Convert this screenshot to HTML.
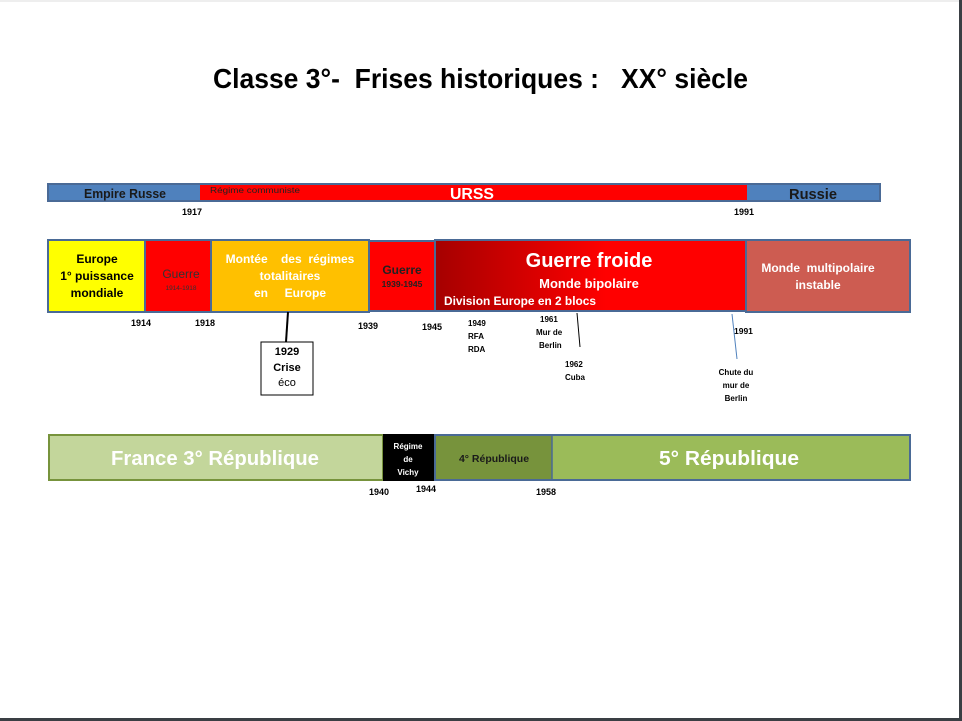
<!DOCTYPE html>
<html><head><meta charset="utf-8"><style>
html,body{margin:0;padding:0;background:#fff}
svg{display:block}
text{font-family:"Liberation Sans",sans-serif;font-weight:bold;white-space:pre}
</style></head><body>
<svg width="962" height="721" viewBox="0 0 962 721" xmlns="http://www.w3.org/2000/svg" xml:space="preserve">
<defs>
<linearGradient id="gf" x1="0" x2="1" y1="0" y2="0">
<stop offset="0" stop-color="#a50000"/><stop offset="0.55" stop-color="#ff0000"/><stop offset="1" stop-color="#ff0000"/>
</linearGradient>
</defs>
<rect x="0" y="0" width="962" height="721" fill="#fff"/>
<rect x="0" y="0" width="962" height="2" fill="#eee"/>
<rect x="959" y="0" width="3" height="721" fill="#3a3f44"/>
<rect x="0" y="718" width="962" height="3" fill="#3a3f44"/>

<text x="213" y="88" font-size="28" textLength="535" lengthAdjust="spacingAndGlyphs" fill="#000">Classe 3°-  Frises historiques :   XX° siècle</text>

<rect x="48" y="184" width="832" height="17" fill="#ff0000" stroke="#4a6a96" stroke-width="2"/>
<rect x="49" y="185" width="151" height="15" fill="#4f81bd"/>
<rect x="747" y="185" width="132" height="15" fill="#4f81bd"/>
<text x="84" y="198" font-size="13" textLength="82" lengthAdjust="spacingAndGlyphs" fill="#1a1a1a">Empire Russe</text>
<text x="210" y="193" font-size="8" style="font-weight:normal" fill="#222" textLength="90" lengthAdjust="spacingAndGlyphs">Régime communiste</text>
<text x="450" y="199" font-size="16" textLength="44" lengthAdjust="spacingAndGlyphs" fill="#fff">URSS</text>
<text x="789" y="199" font-size="15" textLength="48" lengthAdjust="spacingAndGlyphs" fill="#1a1a1a">Russie</text>
<text x="182" y="215" font-size="9" fill="#000">1917</text>
<text x="734" y="215" font-size="9" fill="#000">1991</text>

<g stroke="#4a6a96" stroke-width="2">
<rect x="48" y="240" width="97" height="72" fill="#ffff00"/>
<rect x="145" y="240" width="66" height="72" fill="#ff0000"/>
<rect x="211" y="240" width="158" height="72" fill="#ffc000"/>
<rect x="369" y="241" width="66" height="70" fill="#ff0000"/>
<rect x="435" y="240" width="311" height="71" fill="url(#gf)"/>
<rect x="746" y="240" width="164" height="72" fill="#cd5c51"/>
</g>
<g font-size="12" fill="#000" text-anchor="middle">
<text x="97" y="263">Europe</text>
<text x="97" y="280">1° puissance</text>
<text x="97" y="297">mondiale</text>
</g>
<text x="181" y="278" font-size="12" style="font-weight:normal" fill="#333" text-anchor="middle">Guerre</text>
<text x="181" y="290" font-size="6.5" style="font-weight:normal" fill="#333" text-anchor="middle">1914-1918</text>
<g font-size="12" fill="#fff" text-anchor="middle">
<text x="290" y="263">Montée    des  régimes</text>
<text x="290" y="280">totalitaires</text>
<text x="290" y="297">en     Europe</text>
</g>
<text x="402" y="274" font-size="12" fill="#222" text-anchor="middle">Guerre</text>
<text x="402" y="287" font-size="8.5" fill="#222" text-anchor="middle">1939-1945</text>
<text x="589" y="267" font-size="20" fill="#fff" text-anchor="middle">Guerre froide</text>
<text x="589" y="288" font-size="13" fill="#fff" text-anchor="middle">Monde bipolaire</text>
<text x="444" y="305" font-size="11.5" fill="#fff" textLength="152" lengthAdjust="spacingAndGlyphs">Division Europe en 2 blocs</text>
<text x="818" y="272" font-size="12" fill="#fff" text-anchor="middle">Monde  multipolaire</text>
<text x="818" y="289" font-size="12" fill="#fff" text-anchor="middle">instable</text>

<g font-size="9" fill="#000">
<text x="131" y="326">1914</text>
<text x="195" y="326">1918</text>
<text x="358" y="329">1939</text>
<text x="422" y="330">1945</text>
<text x="468" y="326" font-size="8">1949</text>
<text x="468" y="339" font-size="8">RFA</text>
<text x="468" y="352" font-size="8">RDA</text>
<text x="540" y="322" font-size="8">1961</text>
<text x="536" y="335" font-size="8">Mur de</text>
<text x="539" y="348" font-size="8">Berlin</text>
<text x="565" y="367" font-size="8">1962</text>
<text x="565" y="380" font-size="8">Cuba</text>
<text x="734" y="334" font-size="8.5">1991</text>
<text x="736" y="375" font-size="8" text-anchor="middle">Chute du</text>
<text x="736" y="388" font-size="8" text-anchor="middle">mur de</text>
<text x="736" y="401" font-size="8" text-anchor="middle">Berlin</text>
</g>
<line x1="577" y1="313" x2="580" y2="347" stroke="#000" stroke-width="1"/>
<line x1="732" y1="314" x2="737" y2="359" stroke="#4f81bd" stroke-width="1"/>
<line x1="288" y1="312" x2="286" y2="342" stroke="#000" stroke-width="2"/>
<rect x="261" y="342" width="52" height="53" fill="#fff" stroke="#000" stroke-width="1"/>
<g font-size="11" fill="#000" text-anchor="middle">
<text x="287" y="355">1929</text>
<text x="287" y="371">Crise</text>
<text x="287" y="386" style="font-weight:normal">éco</text>
</g>

<rect x="49" y="435" width="334" height="45" fill="#c3d69b" stroke="#77933c" stroke-width="2"/>
<rect x="383" y="434" width="52" height="47" fill="#000"/>
<rect x="435" y="435" width="475" height="45" fill="#9bbb59" stroke="#4a6a96" stroke-width="2"/>
<rect x="436" y="436" width="116" height="43" fill="#77933c"/>
<line x1="552" y1="435" x2="552" y2="480" stroke="#4a6a96" stroke-width="1.5"/>
<text x="215" y="465" font-size="20" fill="#fff" text-anchor="middle" textLength="208" lengthAdjust="spacingAndGlyphs">France 3° République</text>
<g font-size="8" fill="#fff" text-anchor="middle">
<text x="408" y="449">Régime</text>
<text x="408" y="462">de</text>
<text x="408" y="475">Vichy</text>
</g>
<text x="494" y="462" font-size="10.5" fill="#1a1a1a" text-anchor="middle">4° République</text>
<text x="729" y="465" font-size="20" fill="#fff" text-anchor="middle" textLength="140" lengthAdjust="spacingAndGlyphs">5° République</text>
<g font-size="9" fill="#000">
<text x="369" y="495">1940</text>
<text x="416" y="492">1944</text>
<text x="536" y="495">1958</text>
</g>
</svg>
</body></html>
